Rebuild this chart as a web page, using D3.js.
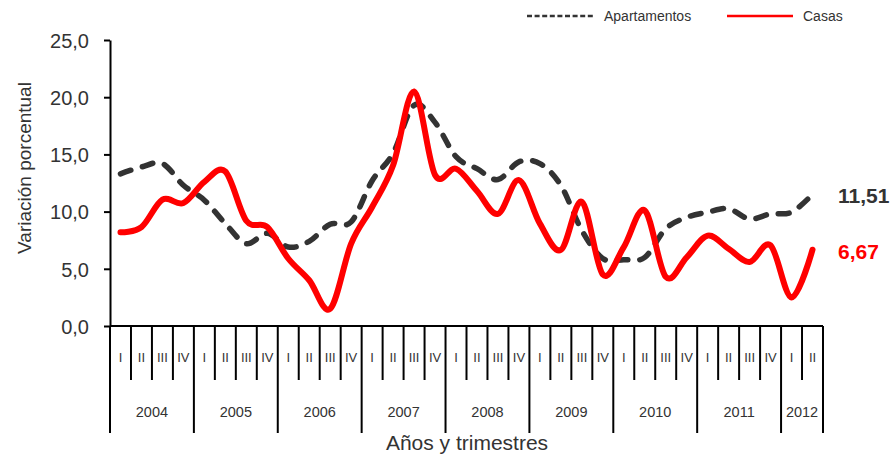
<!DOCTYPE html>
<html><head><meta charset="utf-8">
<script src="https://cdn.jsdelivr.net/npm/d3@7/dist/d3.min.js"></script>
<style>
body{margin:0;background:#fff;}
svg{display:block;font-family:"Liberation Sans",Arial,sans-serif;}
</style></head>
<body>
<svg id="chart" width="896" height="456"></svg>
<script>
// ---- data ----
const years = ["2004","2005","2006","2007","2008","2009","2010","2011","2012"];
const quartersPerYear = [4,4,4,4,4,4,4,4,2];
const quarterLabels = ["I","II","III","IV"];
const apartamentos = [13.3,13.9,14.2,12.3, 11.0,8.95,7.2,8.1, 6.9,7.4,8.9,9.1,
  12.7,15.1,19.3,17.8, 14.8,13.75,12.8,14.35, 14.2,12.3,8.35,5.9,
  5.8,6.0,8.5,9.5, 9.95,10.25,9.35,9.8, 9.95,11.51];
const casas = [8.2,8.65,11.05,10.75, 12.6,13.5,9.2,8.65, 5.9,4.0,1.5,7.2,
  10.4,14.05,20.5,13.2, 13.75,11.8,9.8,12.75, 8.95,6.65,10.85,4.5,
  6.9,10.1,4.3,6.0, 7.9,6.75,5.6,7.05, 2.5,6.67];
const yTicks = [0,5,10,15,20,25];
const seriesNames = ["Apartamentos","Casas"];
const endLabels = ["11,51","6,67"];

// ---- build categories ----
const categories = [];
years.forEach((yr,i)=>{ for(let q=0;q<quartersPerYear[i];q++) categories.push({year:yr,q:quarterLabels[q],key:yr+"-"+quarterLabels[q],first:q===0}); });

const svg = d3.select("#chart");
const pLeft=110, pRight=823, pTop=40, pBottom=326;

const x = d3.scaleBand().domain(categories.map(d=>d.key)).range([pLeft,pRight]).padding(0);
const y = d3.scaleLinear().domain([0,25]).range([pBottom,pTop]);
const fmt = v => d3.format(".1f")(v).replace(".",",");

// y axis
const yAxis = svg.append("g").attr("transform",`translate(${pLeft},0)`)
  .call(d3.axisLeft(y).tickValues(yTicks).tickSize(6).tickSizeOuter(0).tickFormat(fmt));
yAxis.select(".domain").attr("stroke","#000").attr("stroke-width",2);
yAxis.selectAll(".tick line").attr("stroke","#000").attr("stroke-width",2);
yAxis.selectAll(".tick text").attr("font-size",20).attr("fill","#333")
  .attr("font-family","Liberation Sans, Arial, sans-serif").attr("x",-21).attr("dy","0.36em");

// x axis baseline
svg.append("line").attr("x1",pLeft).attr("x2",pRight).attr("y1",pBottom).attr("y2",pBottom)
  .attr("stroke","#000").attr("stroke-width",2);

// separators
const bw = x.bandwidth();
categories.forEach((d,i)=>{
  const x0 = x(d.key);
  svg.append("line").attr("x1",x0).attr("x2",x0).attr("y1",pBottom).attr("y2",d.first?433:380)
    .attr("stroke","#000").attr("stroke-width",2);
  svg.append("text").attr("x",x0+bw/2).attr("y",362).attr("text-anchor","middle")
    .attr("font-size",13).attr("fill","#333").text(d.q);
});
svg.append("line").attr("x1",pRight).attr("x2",pRight).attr("y1",pBottom).attr("y2",433)
  .attr("stroke","#000").attr("stroke-width",2);
// year labels
years.forEach(yr=>{
  const cats = categories.filter(c=>c.year===yr);
  const x0 = x(cats[0].key), x1 = x(cats[cats.length-1].key)+bw;
  svg.append("text").attr("x",(x0+x1)/2).attr("y",417).attr("text-anchor","middle")
    .attr("font-size",14.5).attr("fill","#333").text(yr);
});

// axis titles
svg.append("text").attr("x",467).attr("y",450).attr("text-anchor","middle")
  .attr("font-size",21).attr("fill","#333").text("Años y trimestres");
svg.append("text").attr("transform","translate(31,168) rotate(-90)").attr("text-anchor","middle")
  .attr("font-size",19).attr("fill","#333").text("Variación porcentual");

// lines
const line = d3.line().x((d,i)=>x(categories[i].key)+bw/2).y(d=>y(d)).curve(d3.curveCatmullRom.alpha(0));
svg.append("path").datum(apartamentos).attr("d",line).attr("fill","none")
  .attr("stroke","#333").attr("stroke-width",5.5).attr("stroke-dasharray","11,12").attr("stroke-linecap","round");
svg.append("path").datum(casas).attr("d",line).attr("fill","none")
  .attr("stroke","#ff0000").attr("stroke-width",6).attr("stroke-linejoin","round").attr("stroke-linecap","round");

// end labels
svg.append("text").attr("x",838).attr("y",203).attr("font-size",21).attr("font-weight","bold")
  .attr("fill","#333").text(endLabels[0]);
svg.append("text").attr("x",838).attr("y",259).attr("font-size",21).attr("font-weight","bold")
  .attr("fill","#ff0000").text(endLabels[1]);

// legend
svg.append("line").attr("x1",527).attr("x2",595).attr("y1",16).attr("y2",16)
  .attr("stroke","#333").attr("stroke-width",2.5).attr("stroke-dasharray","5,2.6");
svg.append("text").attr("x",604).attr("y",21).attr("font-size",14).attr("fill","#333").text(seriesNames[0]);
svg.append("line").attr("x1",727).attr("x2",793).attr("y1",16).attr("y2",16)
  .attr("stroke","#ff0000").attr("stroke-width",2.5);
svg.append("text").attr("x",803).attr("y",21).attr("font-size",14).attr("fill","#333").text(seriesNames[1]);
</script>
</body></html>
